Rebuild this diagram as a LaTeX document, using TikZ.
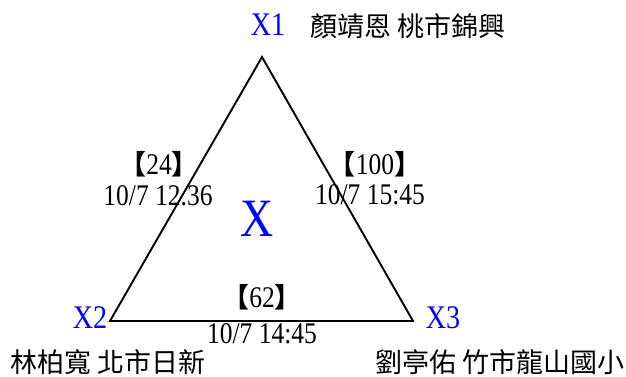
\documentclass[tikz,border=0pt]{standalone}
\usepackage{fontspec}
\setmainfont{Liberation Serif}[FakeStretch=0.85]
\newfontfamily\cjk{Noto Sans CJK TC}
\tikzset{
  vertex label/.style={text=blue, font=\fontsize{33}{33}\selectfont, inner sep=0pt},
  name label/.style={font=\cjk\fontsize{27}{27}\selectfont, inner sep=0pt},
  count label/.style={font=\fontsize{30}{30}\selectfont, inner sep=0pt},
  time label/.style={font=\fontsize{30}{30}\selectfont, inner sep=0pt},
  side/.style={line width=1.9pt, line join=miter}
}
\newcommand{\brk}[1]{{\cjk\bfseries\fontsize{27}{27}\selectfont 【}#1{\cjk\bfseries\fontsize{27}{27}\selectfont 】}}

\begin{document}
\begin{tikzpicture}[x=1pt, y=-1pt]
    \useasboundingbox (0,0) rectangle (626,376);
    % Corners of the triangle
    \coordinate (x1) at (262,57);
    \coordinate (x2) at (110,321);
    \coordinate (x3) at (413,321);
    \draw[side] (x1) -- (x2) -- (x3) -- cycle;

    % Corner labels and names
    \node[vertex label] (l1) at (268,25) {X1};
    \node[vertex label] (l2) at (90,318) {X2};
    \node[vertex label] (l3) at (443,318) {X3};
    \node[name label] (n1) at (408,26) {顏靖恩 桃市錦興};
    \node[name label] (n2) at (108,362) {林柏寬 北市日新};
    \node[name label] (n3) at (500,362) {劉亭佑 竹市龍山國小};

    % Sides
    \node[count label] (c12) at (159,164) {\brk{24}};
    \node[time label] (t12) at (158,196) {10/7 12.36};
    \node[count label] (c13) at (375,164) {\brk{100}};
    \node[time label] (t13) at (370,195) {10/7 15:45};
    \node[count label] (c23) at (262,297) {\brk{62}};
    \node[time label] (t23) at (262,334) {10/7 14:45};

    % Centre
    \node[text=blue, font=\fontsize{54}{54}\selectfont, inner sep=0pt] (ctr) at (257,219) {X};
\end{tikzpicture}
\end{document}
